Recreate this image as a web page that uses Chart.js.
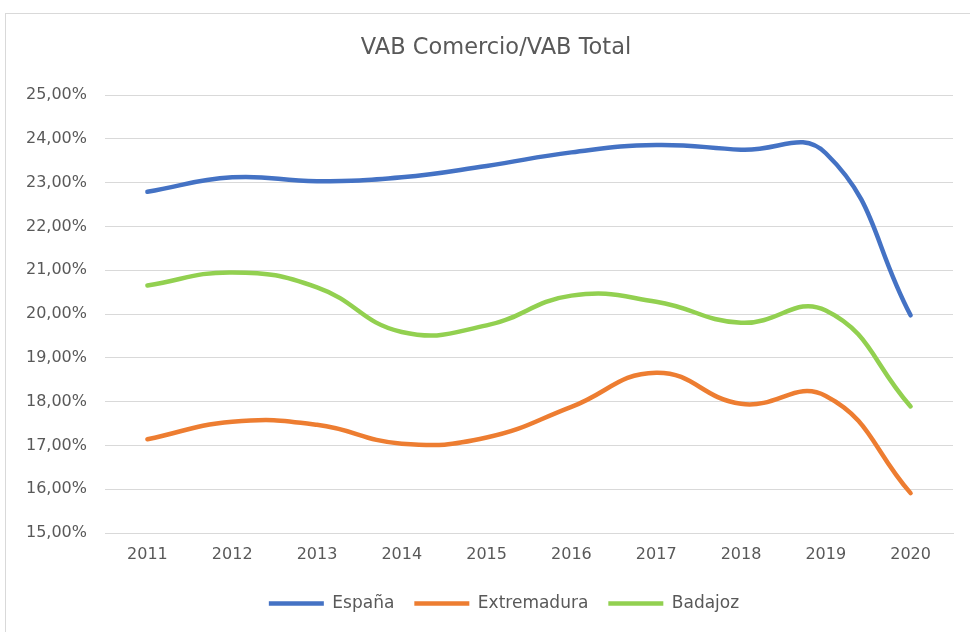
<!DOCTYPE html>
<html>
<head>
<meta charset="utf-8">
<script src="https://cdn.jsdelivr.net/npm/chart.js@4.4.1/dist/chart.umd.min.js"></script>
<style>
  html, body { margin: 0; padding: 0; background: #ffffff; overflow: hidden; }
  #frame {
    position: absolute; left: 5px; top: 13px;
    width: 1000px; height: 700px;
    border: 1px solid #d9d9d9;
  }
  #box { position: absolute; left: 0; top: 0; width: 964px; height: 618px; }
</style>
</head>
<body>
<div id="frame">
  <div id="box"><canvas id="vabChart"></canvas></div>
</div>
<script>
// === Chart data (values in %) ===
const years = ["2011", "2012", "2013", "2014", "2015", "2016", "2017", "2018", "2019", "2020"];
const espana = [22.79, 23.12, 23.03, 23.12, 23.38, 23.69, 23.86, 23.75, 23.67, 19.97];
const extremadura = [17.14, 17.54, 17.47, 17.04, 17.18, 17.88, 18.66, 17.95, 18.13, 15.91];
const badajoz = [20.65, 20.95, 20.61, 19.59, 19.74, 20.42, 20.28, 19.80, 20.08, 17.89];

const textColor = "#595959";
const gridColor = "#d9d9d9";
const fontFamily = "'DejaVu Sans', sans-serif";

// === Helper to build one line series ===
function makeSeries(label, data, color) {
  return {
    label: label,
    data: data,
    borderColor: color,
    backgroundColor: color,
    borderWidth: 4.5,
    borderCapStyle: "round",
    pointRadius: 0,
    pointHoverRadius: 0,
    tension: 0.45,
    fill: false,
  };
}

// === Shift title and legend boxes so they are centred like the original frame ===
const boxShift = {
  id: "boxShift",
  afterLayout(chart) {
    if (chart.titleBlock) chart.titleBlock.left = 33;
    if (chart.legend) {
      chart.legend.left = 49;
      if (chart.legend.adjustHitBoxes) chart.legend.adjustHitBoxes();
    }
  },
};

const ctx = document.getElementById("vabChart").getContext("2d");

new Chart(ctx, {
  type: "line",
  data: {
    labels: years,
    datasets: [
      makeSeries("España", espana, "#4472c4"),
      makeSeries("Extremadura", extremadura, "#ed7d31"),
      makeSeries("Badajoz", badajoz, "#92d050"),
    ],
  },
  options: {
    responsive: true,
    maintainAspectRatio: false,
    animation: false,
    layout: { padding: { left: 0, right: 17, top: 0, bottom: 10 } },
    scales: {
      x: {
        offset: true,
        grid: { display: false, drawTicks: false },
        border: { display: true, color: gridColor, width: 1 },
        ticks: { color: textColor, padding: 12, font: { family: fontFamily, size: 16 } },
        afterFit: (scale) => { scale.height = 42; },
      },
      y: {
        min: 15,
        max: 25,
        ticks: {
          stepSize: 1,
          color: textColor,
          padding: 18,
          font: { family: fontFamily, size: 16 },
          callback: (v) => v.toFixed(2).replace(".", ",") + "%",
        },
        grid: { color: gridColor, lineWidth: 1, drawTicks: false },
        border: { display: false },
        afterFit: (scale) => { scale.width = 99; },
      },
    },
    plugins: {
      title: {
        display: true,
        text: "VAB Comercio/VAB Total",
        color: textColor,
        font: { family: fontFamily, size: 22.5, weight: "normal" },
        padding: { top: 21, bottom: 33 },
      },
      legend: {
        position: "bottom",
        labels: {
          color: textColor,
          font: { family: fontFamily, size: 17 },
          usePointStyle: true,
          pointStyle: "line",
          pointStyleWidth: 55,
          boxHeight: 16,
          padding: 20,
        },
      },
      tooltip: { enabled: false },
    },
  },
  plugins: [boxShift],
});
</script>
</body>
</html>
